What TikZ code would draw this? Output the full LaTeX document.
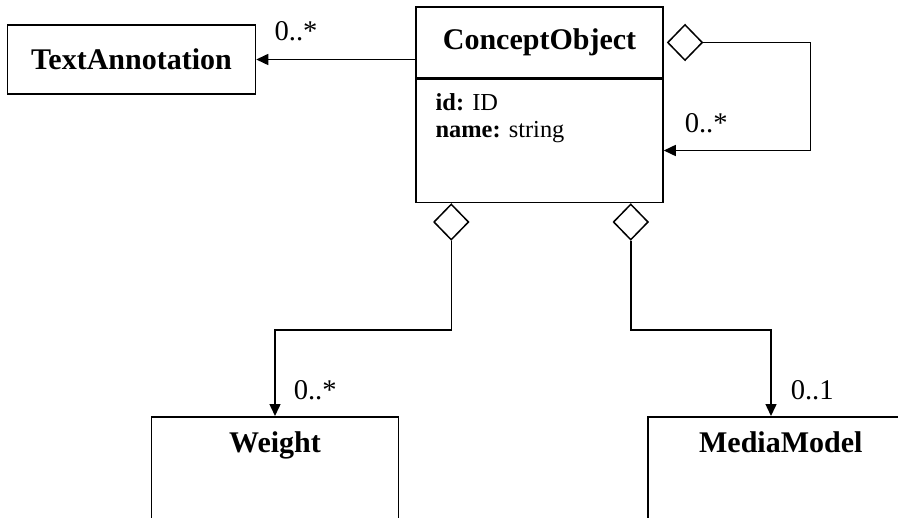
\documentclass[tikz,border=0pt]{standalone}
\usepackage{fontspec}
\setmainfont{Liberation Serif}
\usetikzlibrary{positioning,shapes.geometric,arrows.meta}

\begin{document}
\begin{tikzpicture}[x=0.5pt, y=-0.5pt]
	\tikzset{
		classbox/.style={rectangle, draw=black, line width=0.75pt, minimum width=123.5pt, font=\fontsize{15}{18}\selectfont\bfseries},
		classtitle/.style={classbox, minimum height=35.5pt},
		openclass/.style={classbox, inner sep=0pt, text height=18pt, text depth=82pt},
		aggregation/.style={diamond, draw=black, line width=0.75pt, fill=white, inner sep=0pt, minimum width=17.5pt, minimum height=18pt},
		attrs/.style={inner sep=0pt, align=left, font=\fontsize{12.2}{13.5}\selectfont},
		mult/.style={inner sep=0pt, font=\fontsize{14.3}{16}\selectfont},
		assoc/.style={line width=0.75pt, ->, >={Triangle[length=6pt,width=5.5pt]}},
	}
	\useasboundingbox (0,0) rectangle (898,518);
	\clip (0,0) rectangle (898,518);
	\node[classtitle](concept) at (539.5,42.5){ConceptObject};
	\node[classbox, minimum height=61.5pt, below=0pt of concept](conceptbody){};
	\node[attrs, below right=7pt and 10pt of conceptbody.north west](conceptattrs){\textbf{id:} ID\\\textbf{name:} string};
	\draw[line width=1.75pt] (concept.south west) -- (concept.south east);
	\node[classtitle, minimum width=124pt, minimum height=34.5pt, left=79.5pt of concept, yshift=-8.5pt](textannotation){TextAnnotation};
	\node[aggregation, right=1.5pt of concept](selfagg){};
	\node[aggregation, below=0pt of conceptbody.south west, xshift=18pt](weightagg){};
	\node[aggregation, below=0pt of conceptbody.south east, xshift=-16.5pt](mediaagg){};
	\node[openclass, anchor=north](weight) at (275,416){Weight};
	\node[openclass, minimum width=133pt, anchor=north west](mediamodel) at (647,416){MediaModel};
	\coordinate[right=53.5pt of selfagg.east](loopcorner);
	%Draw arrows
	\draw[assoc] (concept.west |- textannotation.east) -- node[mult, pos=0.75, above=9pt] {0..*} (textannotation.east);
	\draw[assoc] (selfagg.east) -- (loopcorner) |- node[mult, pos=0.855, above=8.5pt] {0..*} ([yshift=-4.75pt]conceptbody.east);
	\draw[assoc] (weightagg.south) -- ++(0,89) -| node[mult, pos=0.85, right=9pt] {0..*} (weight.north);
	\draw[assoc] (mediaagg.south) -- ++(0,89) -| node[mult, pos=0.85, right=9.5pt] {0..1} ([xshift=62pt]mediamodel.north west);
\end{tikzpicture}
\end{document}
